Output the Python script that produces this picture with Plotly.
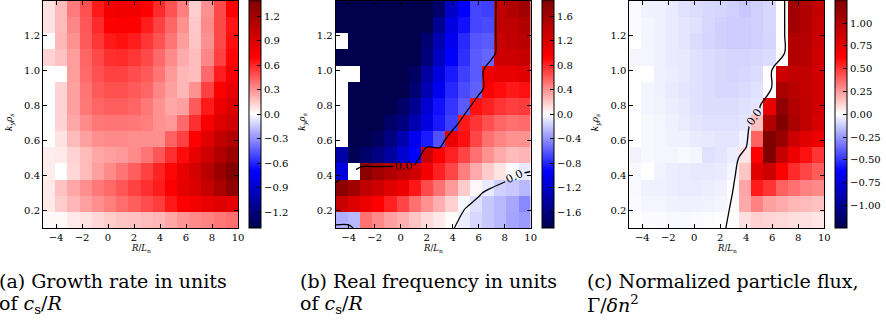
import plotly.graph_objects as go

W, H = 886, 322

# grid: R/L_n and k_y rho_s
rln = [-5, -4, -3, -2, -1, 0, 1, 2, 3, 4, 5, 6, 7, 8, 9, 10]
kyrho = [0.1, 0.2, 0.3, 0.4, 0.5, 0.6, 0.7, 0.8, 0.9, 1.0, 1.1, 1.2, 1.3, 1.4]
N = None

# (a) growth rate, rows in increasing k_y rho_s
growth = [
    [0.02, 0.02, 0.06, 0.08, 0.11, 0.14, 0.16, 0.17, 0.19, 0.20, 0.24, 0.29, 0.32, 0.34, 0.37, 0.39],
    [0.06, 0.14, 0.20, 0.26, 0.31, 0.35, 0.40, 0.44, 0.49, 0.53, 0.63, 0.70, 0.76, 0.82, 0.86, 0.83],
    [0.06, 0.17, 0.24, 0.31, 0.37, 0.41, 0.46, 0.52, 0.57, 0.62, 0.72, 0.83, 0.90, 1.02, 1.16, 1.30],
    [0.05, N, 0.11, 0.19, 0.26, 0.32, 0.38, 0.44, 0.52, 0.60, 0.68, 0.82, 0.93, 1.08, 1.25, 1.39],
    [0.05, 0.06, 0.12, 0.19, 0.24, 0.26, 0.28, 0.32, 0.38, 0.46, 0.57, 0.67, 0.83, 0.98, 1.12, 1.25],
    [N, 0.08, 0.19, 0.26, 0.31, 0.32, 0.32, 0.31, 0.31, 0.31, 0.43, 0.52, 0.70, 0.87, 1.04, 1.12],
    [N, 0.12, 0.24, 0.32, 0.37, 0.38, 0.38, 0.37, 0.35, 0.30, 0.28, 0.41, 0.57, 0.73, 0.88, 0.95],
    [N, 0.12, 0.26, 0.37, 0.42, 0.44, 0.44, 0.42, 0.37, 0.30, 0.24, 0.26, 0.45, 0.63, 0.80, 0.90],
    [N, 0.12, 0.26, 0.38, 0.45, 0.48, 0.48, 0.45, 0.42, 0.33, 0.26, 0.20, 0.30, 0.52, 0.70, 0.82],
    [N, N, 0.27, 0.41, 0.48, 0.52, 0.52, 0.49, 0.45, 0.38, 0.28, 0.20, 0.18, 0.41, 0.62, 0.75],
    [0.12, 0.17, 0.27, 0.42, 0.50, 0.57, 0.58, 0.55, 0.50, 0.41, 0.32, 0.23, 0.18, 0.33, 0.52, 0.68],
    [N, 0.20, 0.30, 0.45, 0.55, 0.63, 0.65, 0.62, 0.55, 0.47, 0.38, 0.27, 0.16, 0.30, 0.50, 0.66],
    [0.08, 0.19, 0.33, 0.46, 0.58, 0.70, 0.72, 0.70, 0.62, 0.52, 0.42, 0.30, 0.15, 0.32, 0.50, 0.64],
    [0.08, 0.19, 0.36, 0.48, 0.63, 0.75, 0.78, 0.78, 0.70, 0.58, 0.47, 0.35, 0.13, 0.30, 0.50, 0.70],
]

# (b) real frequency
frequency = [
    [-0.29, -0.26, 0.52, 0.43, 0.35, 0.29, 0.21, 0.14, 0.08, 0.01, -0.07, -0.15, -0.20, -0.26, -0.33, -0.37],
    [1.33, 1.18, 1.05, 0.93, 0.81, 0.68, 0.52, 0.40, 0.29, 0.17, -0.03, -0.11, -0.20, -0.26, -0.32, -0.43],
    [1.78, 1.62, 1.39, 1.30, 1.16, 1.05, 0.85, 0.66, 0.52, 0.37, 0.19, 0.03, -0.08, -0.17, -0.20, -0.26],
    [-1.11, N, 1.78, 1.62, 1.51, 1.39, 1.27, 1.00, 0.81, 0.68, 0.47, 0.31, 0.19, 0.10, -0.01, -0.08],
    [-1.38, -1.82, -1.71, -1.59, -1.43, -1.17, -0.93, 1.33, 0.93, 0.81, 0.68, 0.52, 0.40, 0.31, 0.25, 0.27],
    [N, -2.2, -1.84, -1.76, -1.59, -1.34, -1.02, -0.84, -0.64, 1.05, 0.87, 0.68, 0.52, 0.45, 0.40, 0.40],
    [N, -2.2, -2.2, -1.95, -1.72, -1.60, -1.34, -1.09, -0.84, -0.70, 0.84, 0.74, 0.64, 0.56, 0.52, 0.54],
    [N, -2.2, -2.2, -2.2, -1.90, -1.72, -1.51, -1.17, -0.87, -0.74, -0.60, 0.87, 0.81, 0.74, 0.70, 0.72],
    [N, -2.2, -2.2, -2.2, -2.2, -1.90, -1.67, -1.34, -1.01, -0.79, -0.66, -0.58, 0.93, 0.89, 0.84, 0.87],
    [N, N, -2.2, -2.2, -2.2, -2.2, -1.76, -1.43, -1.11, -0.84, -0.70, -0.60, 1.05, 1.10, 1.10, 1.16],
    [-2.2, -2.2, -2.2, -2.2, -2.2, -2.2, -1.90, -1.62, -1.26, -0.93, -0.76, -0.60, -0.56, 1.30, 1.30, 1.35],
    [N, -2.2, -2.2, -2.2, -2.2, -2.2, -2.2, -1.67, -1.34, -1.02, -0.78, -0.62, -0.60, 1.33, 1.39, 1.45],
    [-2.2, -2.2, -2.2, -2.2, -2.2, -2.2, -2.2, -1.95, -1.51, -1.09, -0.87, -0.68, -0.66, 1.40, 1.40, 1.51],
    [-2.2, -2.2, -2.2, -2.2, -2.2, -2.2, -2.2, -2.2, -1.71, -1.22, -0.93, -0.68, -0.70, 1.39, 1.51, 1.62],
]

# (c) normalized particle flux
flux = [
    [-0.003, -0.007, -0.012, -0.017, -0.017, -0.012, -0.007, -0.003, 0.004, 0.076, 0.115, 0.103, 0.096, 0.08, 0.076, 0.064],
    [-0.012, -0.025, -0.025, -0.032, -0.037, -0.037, -0.032, -0.025, 0.012, 0.208, 0.31, 0.233, 0.208, 0.18, 0.166, 0.153],
    [-0.017, -0.032, -0.037, -0.044, -0.049, -0.049, -0.044, -0.037, 0.004, 0.22, 0.56, 0.495, 0.39, 0.35, 0.31, 0.29],
    [-0.017, N, -0.032, -0.044, -0.049, -0.056, -0.056, -0.049, -0.025, 0.14, 0.78, 0.875, 0.625, 0.52, 0.456, 0.40],
    [-0.032, -0.017, -0.025, -0.025, -0.017, -0.025, -0.076, -0.064, -0.044, 0.064, 0.625, 1.25, 0.91, 0.71, 0.586, 0.495],
    [N, -0.017, -0.025, -0.032, -0.037, -0.049, -0.056, -0.064, -0.064, -0.037, 0.39, 1.33, 1.12, 0.875, 0.78, 0.71],
    [N, -0.017, -0.025, -0.037, -0.049, -0.064, -0.076, -0.076, -0.076, -0.064, 0.154, 1.01, 1.25, 1.05, 0.93, 0.82],
    [N, -0.025, -0.032, -0.044, -0.056, -0.076, -0.086, -0.086, -0.086, -0.076, -0.064, 0.74, 1.17, 1.01, 0.93, 0.85],
    [N, -0.025, -0.037, -0.049, -0.064, -0.076, -0.086, -0.096, -0.096, -0.086, -0.076, 0.005, 1.05, 0.97, 0.91, 0.85],
    [N, N, -0.037, -0.044, -0.056, -0.076, -0.086, -0.096, -0.103, -0.096, -0.086, 0.005, 0.875, 0.93, 0.93, 0.85],
    [-0.025, -0.025, -0.037, -0.049, -0.056, -0.076, -0.086, -0.096, -0.103, -0.103, -0.096, -0.086, 0.005, 1.01, 0.97, 0.85],
    [N, -0.025, -0.037, -0.049, -0.064, -0.086, -0.103, -0.115, -0.125, -0.125, -0.115, -0.103, 0.005, 1.01, 0.99, 0.875],
    [-0.012, -0.025, -0.037, -0.049, -0.064, -0.076, -0.096, -0.115, -0.125, -0.125, -0.115, -0.096, 0.005, 1.09, 1.01, 0.90],
    [-0.012, -0.032, -0.037, -0.049, -0.076, -0.086, -0.096, -0.103, -0.115, -0.135, -0.115, -0.096, 0.005, 1.09, 1.01, 0.93],
]

xticks = [-4, -2, 0, 2, 4, 6, 8, 10]
yticks = [0.2, 0.4, 0.6, 0.8, 1.0, 1.2]
cb_ticks = [
    [-1.2, -0.9, -0.6, -0.3, 0.0, 0.3, 0.6, 0.9, 1.2],
    [-1.6, -1.2, -0.8, -0.4, 0.0, 0.4, 0.8, 1.2, 1.6],
    [-1.00, -0.75, -0.50, -0.25, 0.00, 0.25, 0.50, 0.75, 1.00],
]
cb_fmt = [".1f", ".1f", ".2f"]
zlim = [1.395, 1.86, 1.25]
captions = [
    ["(a) Growth rate in units", "of <i>c</i><sub>s</sub>/<i>R</i>"],
    ["(b) Real frequency in units", "of <i>c</i><sub>s</sub>/<i>R</i>"],
    ["(c) Normalized particle flux,", "Γ/<i>δn</i><sup>2</sup>"],
]
panels = [growth, frequency, flux]
has_contour = [False, True, True]

seismic = [[0.0, "rgb(0,0,77)"], [0.25, "rgb(0,0,255)"], [0.5, "rgb(255,255,255)"],
           [0.75, "rgb(255,0,0)"], [1.0, "rgb(128,0,0)"]]

# image extent (imshow-like): 16 x 14 cells stretched over the axis ranges
xlo, xhi, ylo, yhi = -5, 10, 0.1, 1.4
nx, ny = len(rln), len(kyrho)
xedges = [xlo + (xhi - xlo) * i / nx for i in range(nx + 1)]
yedges = [ylo + (yhi - ylo) * i / ny for i in range(ny + 1)]

plot_left = [43.0, 335.7, 629.3]
plot_w = 195.0
plot_top, plot_bot = 0.5, 228.0
cb_left = [249.3, 541.7, 835.0]
cb_w = 11.7
caption_x = [-3, 298, 585]

SERIF = "DejaVu Serif"
tickfont = dict(family=SERIF, size=10, color="black")

fig = go.Figure()
layout = dict(width=W, height=H, margin=dict(l=0, r=0, t=0, b=0, autoexpand=False),
              paper_bgcolor="white", plot_bgcolor="white", showlegend=False)
annotations = []

for k in range(3):
    xa = "x" if k == 0 else f"x{k+1}"
    ya = "y" if k == 0 else f"y{k+1}"
    xd = [plot_left[k] / W, (plot_left[k] + plot_w) / W]
    yd = [1 - plot_bot / H, 1 - plot_top / H]
    fig.add_trace(go.Heatmap(
        z=panels[k], x=xedges, y=yedges, xaxis=xa, yaxis=ya,
        colorscale=seismic, zmin=-zlim[k], zmax=zlim[k], zsmooth=False,
        hoverongaps=False,
        colorbar=dict(
            x=cb_left[k] / W, xanchor="left", xpad=0,
            y=1 - (plot_top + plot_bot) / 2 / H, yanchor="middle", ypad=0,
            len=(plot_bot - plot_top) / H, lenmode="fraction",
            thickness=cb_w, thicknessmode="pixels",
            outlinewidth=1, outlinecolor="black",
            ticks="inside", ticklen=4, tickcolor="black", tickwidth=1,
            tickvals=cb_ticks[k], tickformat=cb_fmt[k], tickfont=tickfont,
        ),
    ))
    if has_contour[k]:
        fig.add_trace(go.Contour(
            z=panels[k], x=rln, y=kyrho, xaxis=xa, yaxis=ya,
            contours=dict(start=0, end=0, size=1, coloring="none", showlabels=True,
                          labelformat=".1f",
                          labelfont=dict(family=SERIF, size=11, color="black")),
            line=dict(color="black", width=1.3), showscale=False,
            hoverinfo="skip",
        ))
    axis_common = dict(showgrid=False, zeroline=False, showline=True, linecolor="black",
                       linewidth=1, mirror="ticks", ticks="inside", ticklen=4,
                       tickwidth=1, tickcolor="black", tickfont=tickfont)
    layout["xaxis" if k == 0 else f"xaxis{k+1}"] = dict(
        domain=xd, range=[xlo, xhi], tickvals=xticks, anchor=ya, **axis_common)
    layout["yaxis" if k == 0 else f"yaxis{k+1}"] = dict(
        domain=yd, range=[ylo, yhi], tickvals=yticks, tickformat=".1f", anchor=xa,
        **axis_common)
    # axis labels
    annotations.append(dict(text="<i>R</i>/<i>L</i><sub>n</sub>", xref="paper", yref="paper",
                            x=(plot_left[k] + plot_w / 2) / W, y=1 - 248 / H,
                            xanchor="center", yanchor="middle", showarrow=False,
                            font=dict(family=SERIF, size=8.5, color="black")))
    annotations.append(dict(text="<i>k<sub>y</sub>ρ<sub>s</sub></i>", xref="paper", yref="paper",
                            x=(plot_left[k] - 33) / W, y=1 - 122 / H, textangle=-90,
                            xanchor="center", yanchor="middle", showarrow=False,
                            font=dict(family=SERIF, size=9, color="black")))
    for j, line in enumerate(captions[k]):
        annotations.append(dict(text=line, xref="paper", yref="paper",
                                x=caption_x[k] / W, y=1 - (281 + 23 * j) / H,
                                xanchor="left", yanchor="middle", showarrow=False,
                                font=dict(family=SERIF, size=19, color="black")))

layout["annotations"] = annotations
fig.update_layout(**layout)
fig.write_html("out.html", config={"displayModeBar": False},
               post_script="document.body.style.margin='0px';document.body.style.padding='0px';")
